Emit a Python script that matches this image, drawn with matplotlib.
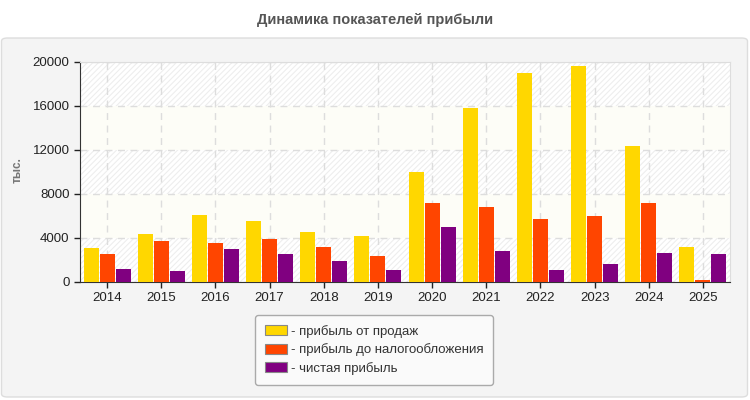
import matplotlib
matplotlib.use("Agg")
import matplotlib.pyplot as plt
from matplotlib.patches import FancyBboxPatch, Rectangle
import numpy as np

plt.rcParams['font.family'] = ['Liberation Sans', 'DejaVu Sans']
plt.rcParams['hatch.linewidth'] = 0.8
plt.rcParams['hatch.color'] = '#e8e8e8'

years = ["2014", "2015", "2016", "2017", "2018", "2019", "2020", "2021", "2022", "2023", "2024", "2025"]
sales_profit = [3100, 4390, 6120, 5570, 4570, 4210, 10030, 15850, 19030, 19670, 12390, 3210]
pretax_profit = [2570, 3750, 3570, 3930, 3200, 2390, 7210, 6850, 5760, 6030, 7210, 210]
net_profit = [1200, 1020, 3030, 2570, 1940, 1120, 5030, 2850, 1120, 1670, 2670, 2580]
series_names = ["- прибыль от продаж", "- прибыль до налогообложения", "- чистая прибыль"]
colors = ["#FFD700", "#FF4500", "#800080"]
yticks = [0, 4000, 8000, 12000, 16000, 20000]

fig = plt.figure(figsize=(7.5, 4.0), dpi=100)
fig.patch.set_facecolor('white')

# background panel
panel = FancyBboxPatch((1.5 / 750, 3 / 400), 746 / 750, 359 / 400,
                       boxstyle="round,pad=0,rounding_size=0.008",
                       transform=fig.transFigure, facecolor='#f4f4f4',
                       edgecolor='#dddddd', linewidth=1.0, zorder=-5)
fig.patches.append(panel)

fig.text(0.5, 1 - 20 / 400, "Динамика показателей прибыли", ha='center', va='center',
         fontsize=10.5, fontweight='bold', color='#555555')

ax = fig.add_axes([80 / 750, 1 - 282 / 400, 650 / 750, 220 / 400])
ax.set_zorder(2)
ax.set_facecolor('white')
ax.set_xlim(-0.5, len(years) - 0.5)
ax.set_ylim(0, 20000)

# alternating bands
for i in range(len(yticks) - 1):
    lo, hi = yticks[i], yticks[i + 1]
    if i % 2 == 0:
        ax.add_patch(Rectangle((-0.5, lo), len(years), hi - lo, facecolor='white',
                               hatch='//////', edgecolor='#eeeeee', linewidth=0, zorder=0))
    else:
        ax.add_patch(Rectangle((-0.5, lo), len(years), hi - lo, facecolor='#fdfdf7',
                               linewidth=0, zorder=0))

x = np.arange(len(years))
w = 0.277
step = 0.295
for k, (vals, c, name) in enumerate(zip([sales_profit, pretax_profit, net_profit], colors, series_names)):
    ax.bar(x + (k - 1) * step, vals, width=w, color=c, label=name, zorder=3)

ax.set_yticks(yticks)
ax.set_yticklabels([str(v) for v in yticks])
ax.set_xticks(x)
ax.set_xticklabels(years)
ax.tick_params(axis='both', labelsize=9.5, colors='#222222', length=4, width=1)
ax.grid(True, color='#dddddd', linestyle=(0, (5, 4)), linewidth=1, zorder=1)
ax.set_axisbelow(True)
for s in ['top', 'right']:
    ax.spines[s].set_color('#dddddd')
for s in ['left', 'bottom']:
    ax.spines[s].set_color('#333333')

fig.text(18 / 750, 1 - 170 / 400, "тыс.", rotation=90, ha='center', va='center',
         fontsize=8.5, fontweight='bold', color='#777777')

leg = ax.legend(loc='upper center', bbox_to_anchor=(374 / 750, 1 - 315 / 400),
                bbox_transform=fig.transFigure, ncol=1, frameon=True, fontsize=9.5,
                handlelength=1.7, handleheight=0.75, handletextpad=0.25,
                labelspacing=0.42, borderpad=0.75, borderaxespad=0, fancybox=True)
frame = leg.get_frame()
frame.set_facecolor('#fafafa')
frame.set_edgecolor('#aaaaaa')
frame.set_alpha(1)
for h in leg.legend_handles:
    h.set_edgecolor('#888888')
    h.set_linewidth(0.8)
for t in leg.get_texts():
    t.set_color('#333333')

fig.savefig("out.png", dpi=100)
